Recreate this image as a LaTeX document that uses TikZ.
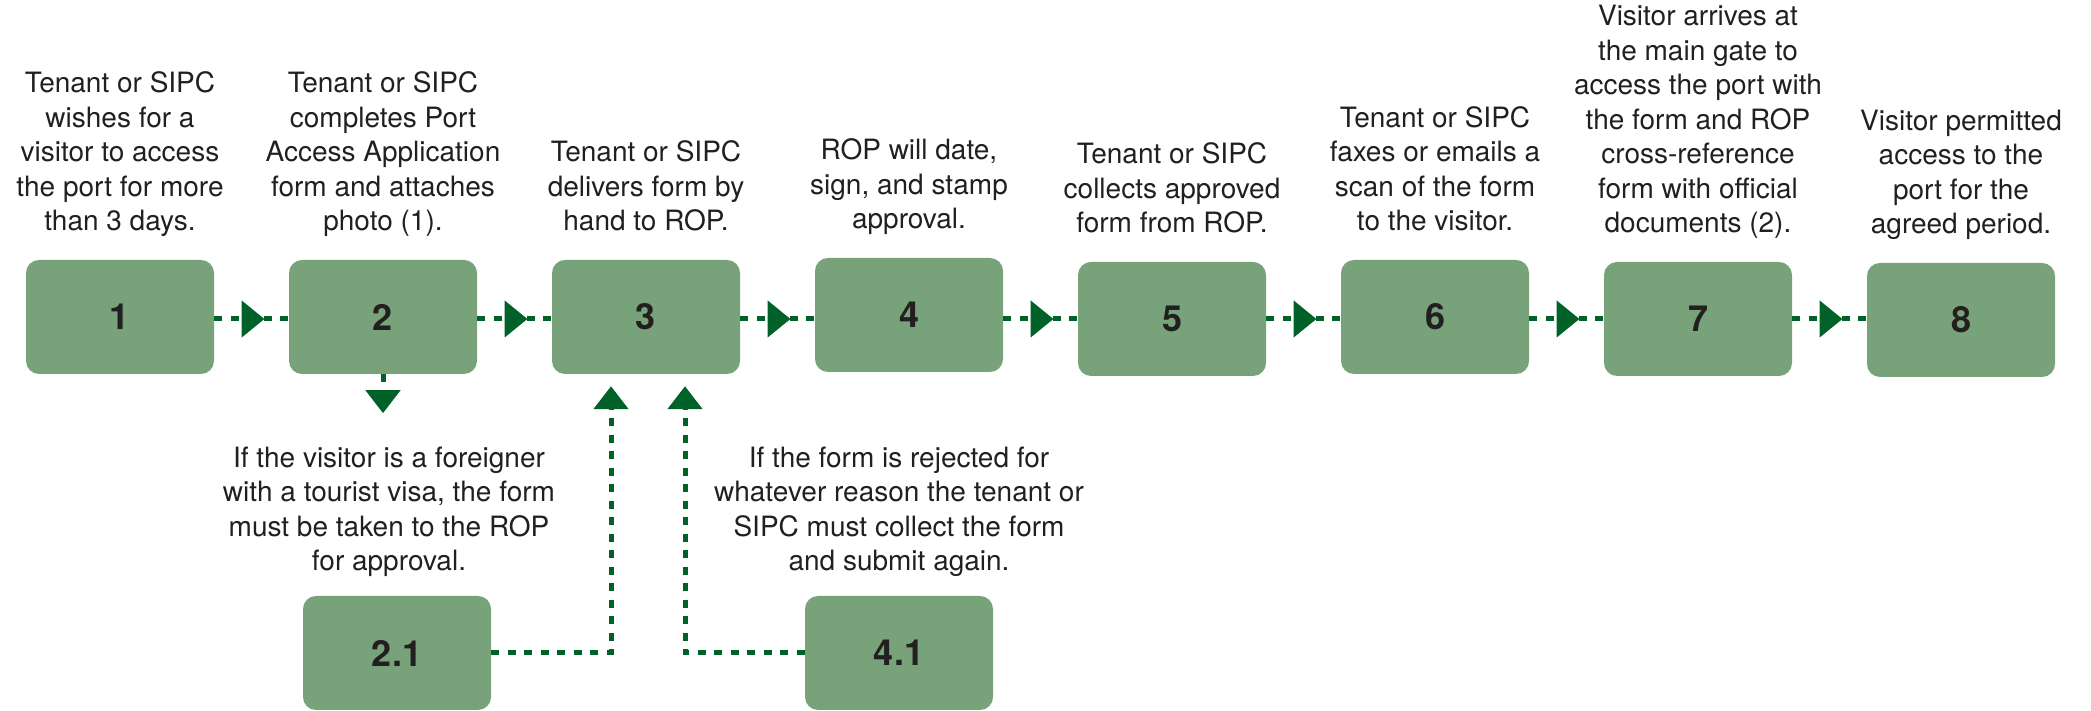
\documentclass[tikz,border=0pt]{standalone}
\usepackage{fontspec}
\setmainfont{TeX Gyre Heros}
\usepackage{tikz}
\usetikzlibrary{arrows.meta,positioning,calc,decorations.markings}
\definecolor{boxgreen}{RGB}{120,162,122}
\definecolor{linegreen}{RGB}{0,98,40}
\definecolor{inkgrey}{RGB}{35,31,32}

\begin{document}
\begin{tikzpicture}[x=1pt,y=1pt,
    stepbox/.style={rectangle,rounded corners=13pt,fill=boxgreen,minimum width=188pt,minimum height=114pt,inner sep=0pt,text=inkgrey,font=\bfseries\fontsize{36}{36}\selectfont},
    desc/.style={align=center,inner sep=0pt,text depth=0pt,text=inkgrey,font=\fontsize{28}{34.5}\selectfont},
    dotline/.style={color=linegreen,line width=5pt,dash pattern=on 8pt off 8.5pt},
    flow/.style={dotline,postaction={decorate},decoration={markings,mark=at position 0.5 with {\arrow[xshift=13pt]{Triangle[length=23pt,width=36pt]}}}},
    tip/.style={-{Triangle[length=23pt,width=34pt]}}]
  \useasboundingbox (0,0) rectangle (2091,711);
  % main steps
  \node[stepbox] (b1) at (120,394) {1};
  \node[stepbox] (b2) at (383,394) {2};
  \node[stepbox] (b3) at (646,394) {3};
  \node[stepbox] (b4) at (909,396) {4};
  \node[stepbox] (b5) at (1172,392) {5};
  \node[stepbox] (b6) at (1435,394) {6};
  \node[stepbox] (b7) at (1698,392) {7};
  \node[stepbox] (b8) at (1961,391) {8};
  % side steps
  \node[stepbox] (b21) at (397,58) {2.1};
  \node[stepbox] (b41) at (899,58) {4.1};
  % texts
  \node[desc,above=29pt of b1] (t1) {Tenant or SIPC\\wishes for a\\visitor to access\\the port for more\\than 3 days.};
  \node[desc,above=29pt of b2] (t2) {Tenant or SIPC\\completes Port\\Access Application\\form and attaches\\photo (1).};
  \node[desc,above=29pt of b3] (t3) {Tenant or SIPC\\delivers form by\\hand to ROP.};
  \node[desc,above=29pt of b4] (t4) {ROP will date,\\sign, and stamp\\approval.};
  \node[desc,above=29pt of b5] (t5) {Tenant or SIPC\\collects approved\\form from ROP.};
  \node[desc,above=29pt of b6] (t6) {Tenant or SIPC\\faxes or emails a\\scan of the form\\to the visitor.};
  \node[desc,above=29pt of b7] (t7) {Visitor arrives at\\the main gate to\\access the port with\\the form and ROP\\cross-reference\\form with official\\documents (2).};
  \node[desc,above=29pt of b8] (t8) {Visitor permitted\\access to the\\port for the\\agreed period.};
  \node[desc,above=25pt of b21,xshift=-8pt] (t21) {If the visitor is a foreigner\\with a tourist visa, the form\\must be taken to the ROP\\for approval.};
  \node[desc,above=25pt of b41] (t41) {If the form is rejected for\\whatever reason the tenant or\\SIPC must collect the form\\and submit again.};
  % connectors
  \foreach \a/\b in {b1/b2,b2/b3,b3/b4,b4/b5,b5/b6,b6/b7,b7/b8}
    \draw[flow] (\a.east|-0,392) -- (\b.west|-0,392);
  \draw[dotline,tip] (b2.south) -- ++(0,-39);
  \draw[dotline,tip] (b21.east) -| ($(b3.south)+(-35,-12)$);
  \draw[dotline,tip] (b41.west) -| ($(b3.south)+(39,-12)$);
\end{tikzpicture}
\end{document}
